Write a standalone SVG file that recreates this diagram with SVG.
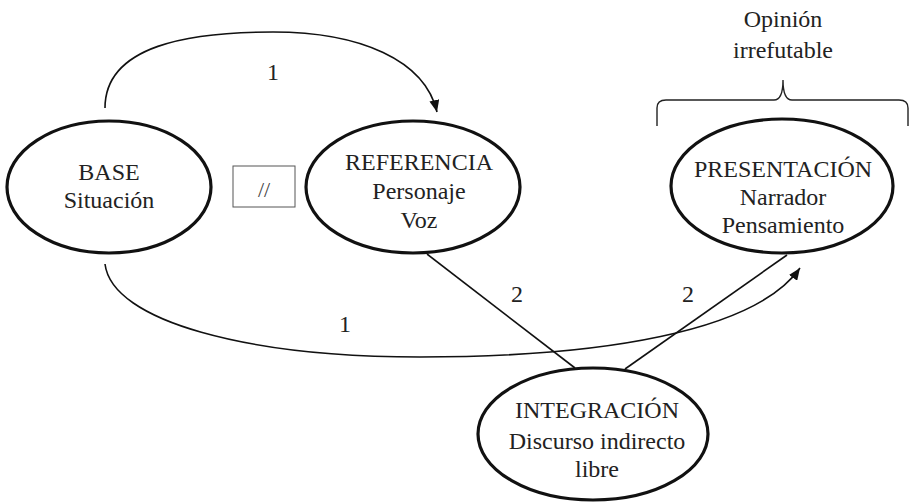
<svg xmlns="http://www.w3.org/2000/svg" width="910" height="503" viewBox="0 0 910 503">
<defs>
<marker id="arr" markerUnits="userSpaceOnUse" markerWidth="12" markerHeight="10" refX="12" refY="5" orient="auto">
<path d="M0,0 L12,5 L0,10 z" fill="#111"/>
</marker>
<style>
.node{fill:#fff;stroke:#111;stroke-width:3.2}
.t{font-family:"Liberation Serif","Times New Roman",serif;font-size:24px;fill:#222;text-anchor:middle}
.c{fill:none;stroke:#111;stroke-width:1.6}
</style>
</defs>
<rect width="910" height="503" fill="#fff"/>
<g id="connectors">
<path class="c" d="M105,108 C105,45 190,32 273,32 C360,32 425,60 437,112" marker-end="url(#arr)"/>
<path class="c" d="M105,264 C112,322 250,357 420,357 C600,357 755,332 800,268" marker-end="url(#arr)"/>
<path class="c" d="M427,254 L575,368"/>
<path class="c" d="M625,369 L787,255"/>
<text class="t" x="273" y="80">1</text>
<text class="t" x="345" y="332">1</text>
<text class="t" x="517" y="302">2</text>
<text class="t" x="688" y="302">2</text>
</g>
<g id="base">
<ellipse class="node" cx="109" cy="187" rx="102" ry="66"/>
<text class="t" x="109" y="180">BASE</text>
<text class="t" x="109" y="208">Situación</text>
</g>
<g id="separator">
<rect x="233" y="166" width="62" height="41" fill="#fff" stroke="#555" stroke-width="1"/>
<text class="t" x="264" y="197" style="font-size:22px;fill:#444">//</text>
</g>
<g id="referencia">
<ellipse class="node" cx="413" cy="187" rx="107" ry="66"/>
<text class="t" x="419" y="170">REFERENCIA</text>
<text class="t" x="419" y="199">Personaje</text>
<text class="t" x="419" y="228">Voz</text>
</g>
<g id="presentacion">
<ellipse class="node" cx="782" cy="186" rx="111" ry="67"/>
<text class="t" x="783" y="177">PRESENTACIÓN</text>
<text class="t" x="783" y="205">Narrador</text>
<text class="t" x="783" y="233">Pensamiento</text>
</g>
<g id="integracion">
<ellipse class="node" cx="593" cy="434" rx="115" ry="66"/>
<text class="t" x="597" y="418">INTEGRACIÓN</text>
<text class="t" x="597" y="449">Discurso indirecto</text>
<text class="t" x="597" y="477">libre</text>
</g>
<g id="opinion">
<path fill="none" stroke="#222" stroke-width="1.4" d="M657,126 L657,108 Q657,100 666,100 L774,100 Q783,100 783,80 Q783,100 792,100 L899,100 Q908,100 908,108 L908,126"/>
<text class="t" x="783" y="27">Opinión</text>
<text class="t" x="783" y="58">irrefutable</text>
</g>
</svg>
